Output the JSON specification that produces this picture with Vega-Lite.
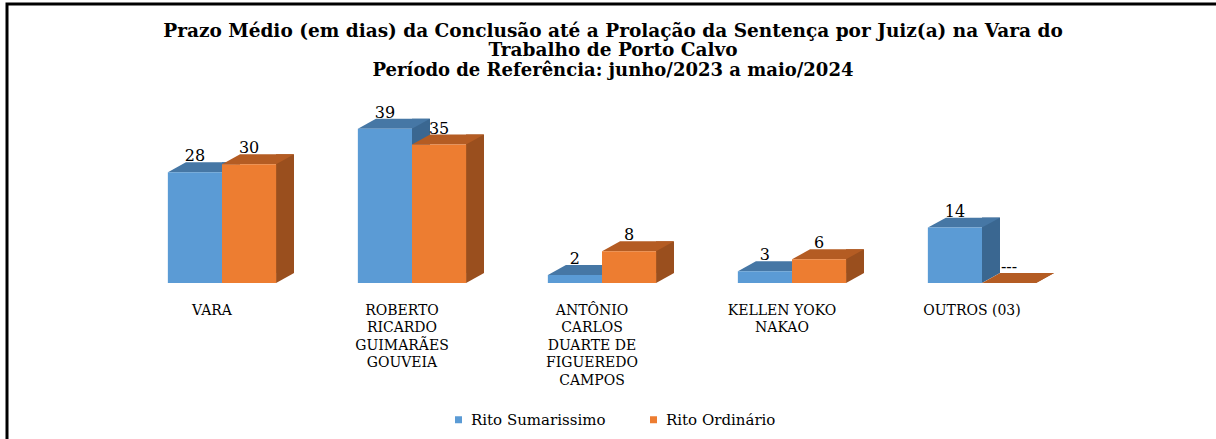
{
  "$schema": "https://vega.github.io/schema/vega-lite/v6.json",
  "autosize": "none",
  "width": 1216,
  "height": 439,
  "padding": {"left": 7, "top": 4, "right": 0, "bottom": 0},
  "background": "white",
  "config": {
    "view": {"stroke": "black", "strokeWidth": 3},
    "font": "DejaVu Serif"
  },
  "title": {
    "text": ["Prazo Médio (em dias) da Conclusão até a Prolação da Sentença por Juiz(a) na Vara do", "Trabalho de Porto Calvo"],
    "subtitle": "Período de Referência: junho/2023 a maio/2024",
    "anchor": "middle",
    "font": "DejaVu Serif",
    "fontSize": 18.5,
    "fontWeight": "bold",
    "color": "black",
    "lineHeight": 19,
    "subtitleFont": "DejaVu Serif",
    "subtitleFontSize": 18,
    "subtitleFontWeight": "bold",
    "subtitleColor": "black",
    "subtitlePadding": 3,
    "dx": -2,
    "dy": 80
  },
  "data": {
    "values": [
      {"juiz": "VARA", "rito": "Rito Sumarissimo", "dias": 28},
      {"juiz": "ROBERTO RICARDO GUIMARÃES GOUVEIA", "rito": "Rito Sumarissimo", "dias": 39},
      {"juiz": "ANTÔNIO CARLOS DUARTE DE FIGUEREDO CAMPOS", "rito": "Rito Sumarissimo", "dias": 2},
      {"juiz": "KELLEN YOKO NAKAO", "rito": "Rito Sumarissimo", "dias": 3},
      {"juiz": "OUTROS (03)", "rito": "Rito Sumarissimo", "dias": 14},
      {"juiz": "VARA", "rito": "Rito Ordinário", "dias": 30},
      {"juiz": "ROBERTO RICARDO GUIMARÃES GOUVEIA", "rito": "Rito Ordinário", "dias": 35},
      {"juiz": "ANTÔNIO CARLOS DUARTE DE FIGUEREDO CAMPOS", "rito": "Rito Ordinário", "dias": 8},
      {"juiz": "KELLEN YOKO NAKAO", "rito": "Rito Ordinário", "dias": 6},
      {"juiz": "OUTROS (03)", "rito": "Rito Ordinário", "dias": 0}
    ]
  },
  "encoding": {
    "x": {
      "field": "juiz",
      "type": "nominal",
      "sort": null,
      "scale": {"range": [120, 1070], "paddingInner": 0.43, "paddingOuter": 0.215},
      "axis": {
        "title": null,
        "orient": "bottom",
        "offset": -160,
        "domain": false,
        "ticks": false,
        "grid": false,
        "labelAngle": 0,
        "labelPadding": 20,
        "labelOffset": -10,
        "labelFont": "DejaVu Serif",
        "labelFontSize": 14,
        "labelLineHeight": 17.5,
        "labelColor": "black",
        "labelLimit": 0,
        "labelOverlap": false,
        "labelBound": false,
        "labelExpr": "datum.label == 'ROBERTO RICARDO GUIMARÃES GOUVEIA' ? ['ROBERTO','RICARDO','GUIMARÃES','GOUVEIA'] : datum.label == 'ANTÔNIO CARLOS DUARTE DE FIGUEREDO CAMPOS' ? ['ANTÔNIO','CARLOS','DUARTE DE','FIGUEREDO','CAMPOS'] : datum.label == 'KELLEN YOKO NAKAO' ? ['KELLEN YOKO','NAKAO'] : datum.label"
      }
    },
    "y": {"field": "dias", "type": "quantitative", "scale": {"domain": [0, 45], "range": [279, 101], "nice": false, "zero": true}, "axis": null}
  },
  "layer": [
    {
      "transform": [{"filter": "datum.rito == 'Rito Sumarissimo'"}],
      "mark": {"type": "bar", "width": 18, "xOffset": 9, "yOffset": -10, "y2Offset": -10, "color": "#3A6791"},
      "encoding": {
        "y2": {"datum": 0}
      }
    },
    {
      "transform": [{"filter": "datum.rito == 'Rito Ordinário'"}],
      "mark": {"type": "bar", "width": 18, "xOffset": 63, "yOffset": -10, "y2Offset": -10, "color": "#9A4F1E"},
      "encoding": {
        "y2": {"datum": 0}
      }
    },
    {
      "mark": {"type": "point", "shape": "M1,0 L1,-0.37 L1.667,-0.37 Z", "size": 2916, "filled": true, "opacity": 1, "strokeWidth": 0},
      "encoding": {
        "xOffset": {"field": "rito", "type": "nominal", "sort": ["Rito Sumarissimo", "Rito Ordinário"]},
        "y": {"datum": 0, "type": "quantitative"},
        "color": {"condition": {"test": "datum.rito == 'Rito Sumarissimo'", "value": "#3A6791"}, "value": "#9A4F1E"}
      }
    },
    {
      "mark": {"type": "point", "shape": "M-1,0 L1,0 L1.667,-0.37 L-0.333,-0.37 Z", "size": 2916, "filled": true, "opacity": 1, "strokeWidth": 0},
      "encoding": {
        "xOffset": {"field": "rito", "type": "nominal", "sort": ["Rito Sumarissimo", "Rito Ordinário"]},
        "color": {"condition": {"test": "datum.rito == 'Rito Sumarissimo'", "value": "#4677A5"}, "value": "#B45C23"}
      }
    },
    {
      "mark": {"type": "bar"},
      "encoding": {
        "xOffset": {"field": "rito", "type": "nominal", "sort": ["Rito Sumarissimo", "Rito Ordinário"]},
        "color": {
          "field": "rito",
          "type": "nominal",
          "scale": {"domain": ["Rito Sumarissimo", "Rito Ordinário"], "range": ["#5B9BD5", "#ED7D31"]},
          "legend": {
            "title": null,
            "orient": "none",
            "direction": "horizontal",
            "legendX": 444,
            "legendY": 408,
            "padding": 0,
            "symbolType": "square",
            "symbolSize": 49,
            "symbolStrokeWidth": 0,
            "labelFont": "DejaVu Serif",
            "labelFontSize": 15,
            "labelColor": "black",
            "labelOffset": 5,
            "columnPadding": 40,
            "labelLimit": 0
          }
        }
      }
    },
    {
      "transform": [{"calculate": "datum.dias > 0 ? format(datum.dias, 'd') : '---'", "as": "rotulo"}],
      "mark": {"type": "text", "baseline": "middle", "align": "center", "dy": -16, "font": "DejaVu Serif", "fontSize": 16, "color": "black"},
      "encoding": {
        "xOffset": {"field": "rito", "type": "nominal", "sort": ["Rito Sumarissimo", "Rito Ordinário"]},
        "text": {"field": "rotulo", "type": "nominal"}
      }
    }
  ]
}
